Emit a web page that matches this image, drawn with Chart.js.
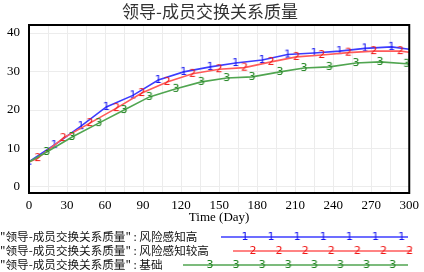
<!DOCTYPE html>
<html>
<head>
<meta charset="utf-8">
<script src="https://cdn.jsdelivr.net/npm/chart.js@4"></script>
<style>
  body { margin: 0; background: #fff; }
</style>
</head>
<body>
<canvas id="plot" width="424" height="272"></canvas>
<script>
// values (Time in days)
let daysHigh = [0, 20, 41, 61, 82, 102, 122, 143, 163, 184, 204, 225, 245, 265, 286, 300];
let qualityHigh = [6.6, 10.9, 15.8, 20.8, 23.8, 27.8, 29.9, 31.2, 32.2, 33.0, 34.4, 34.8, 35.3, 36.0, 36.4, 35.8];
let daysHigher = [0, 7, 27, 48, 69, 89, 109, 129, 150, 170, 191, 211, 231, 252, 272, 293, 300];
let qualityHigher = [6.5, 7.5, 12.7, 16.6, 20.5, 24.4, 27.3, 29.4, 30.6, 31.0, 32.5, 33.8, 34.3, 34.9, 35.3, 35.3, 35.0];
let daysBase = [0, 14, 34, 55, 75, 95, 116, 136, 156, 176, 198, 217, 237, 258, 277, 298, 300];
let qualityBase = [6.5, 9.1, 13.0, 16.6, 20.0, 23.4, 25.5, 27.3, 28.3, 28.6, 29.9, 30.9, 31.2, 32.2, 32.5, 32.0, 31.9];
let yTicks = [0, 10, 20, 30, 40];
let seriesNames = [
    '"领导-成员交换关系质量" : 风险感知高',
    '"领导-成员交换关系质量" : 风险感知较高',
    '"领导-成员交换关系质量" : 基础'
];

// line colour, digit colour
var blue = ["rgb(60,60,255)", "rgb(20,20,240)"];
var red = ["rgb(255,90,90)", "rgb(240,20,20)"];
var green = ["rgb(80,165,80)", "rgb(30,130,30)"];

function digit(txt, color) {
    var c = document.createElement('canvas');
    c.width = 10;
    c.height = 12;
    var g = c.getContext('2d');
    g.font = "11px 'DejaVu Sans'";
    g.fillStyle = color;
    g.textAlign = 'center';
    g.textBaseline = 'middle';
    g.fillText(txt, 5, 6.5);
    return c;
}

function pairs(xs, ys) {
    let out = [];
    for (let i = 0; i < xs.length; i++) {
        out.push({x: xs[i], y: ys[i]});
    }
    return out;
}

function makeSet(xs, ys, colors, txt, firstIsMarker) {
    var img = digit(txt, colors[1]);
    return {
        data: pairs(xs, ys),
        borderColor: colors[0],
        borderWidth: 1.6,
        tension: 0,
        pointRadius: 4,
        pointStyle: function(ctx) {
            var i = ctx.dataIndex;
            if (i === xs.length - 1) return false;
            if (i === 0 && !firstIsMarker) return false;
            return img;
        }
    };
}

var overlay = {
    id: 'overlay',
    afterDraw: function(chart) {
        var ctx = chart.ctx;
        var a = chart.chartArea;
        ctx.save();
        // frame
        ctx.strokeStyle = '#000';
        ctx.lineWidth = 2;
        ctx.strokeRect(a.left, a.top, a.right - a.left, a.bottom - a.top);
        // title
        ctx.fillStyle = '#333';
        ctx.font = "17px 'Noto Sans CJK SC'";
        ctx.textAlign = 'center';
        ctx.textBaseline = 'middle';
        ctx.fillText('领导-成员交换关系质量', 210, 12);
        // axis title
        ctx.fillStyle = '#000';
        ctx.font = "13px 'Liberation Serif'";
        ctx.fillText('Time (Day)', (a.left + a.right) / 2, 218);
        // legend
        var rows = [
            {y: 237, x1: 221, x2: 408, first: 245, n: 7, colors: blue, txt: '1'},
            {y: 251, x1: 233, x2: 412, first: 253, n: 7, colors: red, txt: '2'},
            {y: 265, x1: 183, x2: 408, first: 210, n: 8, colors: green, txt: '3'}
        ];
        ctx.font = "11.6px 'Noto Sans CJK SC'";
        ctx.textAlign = 'left';
        for (let r = 0; r < rows.length; r++) {
            var row = rows[r];
            ctx.fillStyle = '#111';
            ctx.fillText(seriesNames[r], 0, row.y);
            ctx.strokeStyle = row.colors[0];
            ctx.lineWidth = 1.6;
            ctx.beginPath();
            ctx.moveTo(row.x1, row.y);
            ctx.lineTo(row.x2, row.y);
            ctx.stroke();
            var img = digit(row.txt, row.colors[1]);
            for (let k = 0; k < row.n; k++) {
                ctx.drawImage(img, row.first + k * 26.1 - 5, row.y - 6);
            }
        }
        ctx.restore();
    }
};

var ctx = document.getElementById('plot').getContext('2d');

var graph = new Chart(ctx, {
    type: 'line',
    data: {
        datasets: [
            makeSet(daysBase, qualityBase, green, '3', false),
            makeSet(daysHigher, qualityHigher, red, '2', false),
            makeSet(daysHigh, qualityHigh, blue, '1', true)
        ]
    },
    options: {
        responsive: false,
        animation: false,
        layout: {
            padding: {top: 25, right: 11, left: 0, bottom: 0}
        },
        plugins: {
            legend: {display: false},
            tooltip: {enabled: false}
        },
        scales: {
            x: {
                type: 'linear',
                min: 0,
                max: 300,
                afterFit: function(s) { s.height = 79; },
                grid: {color: '#ececec', drawTicks: false},
                border: {display: false},
                ticks: {
                    stepSize: 15,
                    padding: 5,
                    color: '#000',
                    font: {family: 'Liberation Serif', size: 13},
                    maxRotation: 0,
                    autoSkip: false,
                    callback: function(value) {
                        return value % 30 === 0 ? String(value) : '';
                    }
                }
            },
            y: {
                min: -1.56,
                max: 42.08,
                afterFit: function(s) { s.width = 29; },
                afterBuildTicks: function(s) {
                    s.ticks = yTicks.map(function(v) { return {value: v}; });
                },
                grid: {color: '#ececec', drawTicks: false},
                border: {display: false},
                ticks: {
                    padding: 9,
                    color: '#000',
                    font: {family: 'Liberation Serif', size: 13}
                }
            }
        }
    },
    plugins: [overlay]
});
</script>
</body>
</html>
